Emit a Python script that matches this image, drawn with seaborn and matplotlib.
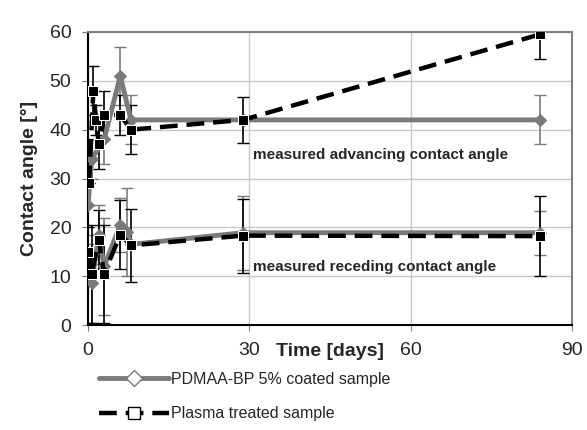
import matplotlib
matplotlib.use("Agg")
import matplotlib.pyplot as plt
from matplotlib.lines import Line2D
import seaborn as sns

# advancing contact angle
adv_pdmaa_days = [0, 0.7, 3, 6, 8, 29, 84]
adv_pdmaa_vals = [24.5, 34, 38, 51, 42, 42, 42]
adv_pdmaa_err = [0, 4, 5, 6, 5, 0, 5]

adv_plasma_days = [0.2, 1, 1.5, 2, 3, 6, 8, 28.8, 84]
adv_plasma_vals = [29, 48, 42, 37, 43, 43, 40, 42, 59.5]
adv_plasma_err = [0, 5, 3, 5, 5, 4, 5, 4.7, 5]

# receding contact angle
rec_pdmaa_days = [0, 0.7, 2, 3, 6, 7.3, 8, 28.8, 84]
rec_pdmaa_vals = [9.5, 8.5, 18.5, 12, 20.5, 19, 16.5, 18.9, 18.9]
rec_pdmaa_err = [9, 8, 6, 10, 5.5, 9, 0, 7.6, 4.5]

rec_plasma_days = [0, 0.7, 2, 3, 6, 8, 28.8, 84]
rec_plasma_vals = [15, 10.5, 17.5, 10.5, 18.5, 16.3, 18.3, 18.2]
rec_plasma_err = [5, 10, 6, 10, 7, 7.5, 7.6, 8.2]

labels = ["PDMAA-BP 5% coated sample", "Plasma treated sample"]

sns.set_style("white")
plt.rcParams["font.family"] = ["Liberation Sans", "DejaVu Sans"]

fig = plt.figure(figsize=(5.87, 4.30), dpi=100)
ax = fig.add_axes([88/587, 1-325/430, 484/587, 293/430])

gray = "#7a7a7a"
dash = (0, (4, 2))
for d, v, e in [(adv_pdmaa_days, adv_pdmaa_vals, adv_pdmaa_err),
                (rec_pdmaa_days, rec_pdmaa_vals, rec_pdmaa_err)]:
    ax.errorbar(d, v, yerr=e, fmt="none", ecolor=gray, elinewidth=1.2, capsize=4, zorder=2)
    sns.lineplot(x=d, y=v, ax=ax, color=gray, lw=3.5, marker="D", markersize=6,
                 markeredgecolor=gray, sort=False, zorder=3)
for d, v, e in [(adv_plasma_days, adv_plasma_vals, adv_plasma_err),
                (rec_plasma_days, rec_plasma_vals, rec_plasma_err)]:
    ax.errorbar(d, v, yerr=e, fmt="none", ecolor="black", elinewidth=1.2, capsize=4, zorder=2)
    sns.lineplot(x=d, y=v, ax=ax, color="black", lw=3.2, linestyle=dash, marker="s",
                 markersize=7, sort=False, zorder=4)

ax.set_xlim(0, 90)
ax.set_ylim(0, 60)
ax.set_xticks([0, 30, 60, 90])
ax.set_yticks(range(0, 61, 10))
ax.grid(True, color="#c8c8c8", lw=1)
ax.set_axisbelow(True)
for s in ["top", "right"]:
    ax.spines[s].set_color("#808080")
    ax.spines[s].set_linewidth(1.5)
for s in ["left", "bottom"]:
    ax.spines[s].set_color("black")
    ax.spines[s].set_linewidth(1.5)
ax.tick_params(labelsize=14, length=4, color="#808080", pad=8, left=True, bottom=True)
ax.set_ylabel("Contact angle [°]", fontsize=14, fontweight="bold", labelpad=8)
ax.set_xlabel("")
ax.text(45, -3.6, "Time [days]", ha="center", va="top", fontsize=14, fontweight="bold")

ax.text(30.7, 34.8, "measured advancing contact angle", fontsize=11, fontweight="bold", va="center")
ax.text(30.7, 11.9, "measured receding contact angle", fontsize=11, fontweight="bold", va="center")

handles = [
    Line2D([], [], color=gray, lw=3.5, marker="D", markersize=8, markerfacecolor="white",
           markeredgecolor=gray),
    Line2D([], [], color="black", lw=3.2, linestyle=dash, marker="s", markersize=8,
           markerfacecolor="white", markeredgecolor="black"),
]
fig.legend(handles, labels, loc="upper left", bbox_to_anchor=(99/587, 1-372/430),
           frameon=False, fontsize=11.5, handlelength=4.4, handletextpad=0.1,
           labelspacing=1.2, borderaxespad=0, borderpad=0)

fig.savefig("out.png", dpi=100)
